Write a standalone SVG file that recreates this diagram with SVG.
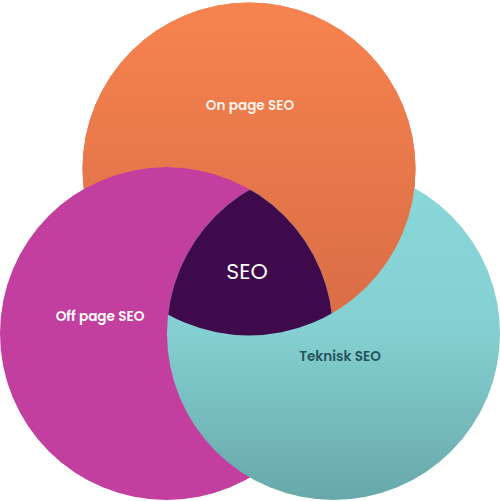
<svg xmlns="http://www.w3.org/2000/svg" width="500" height="501" viewBox="0 0 500 501">
<defs>
<linearGradient id="gOrange" x1="0" y1="0" x2="0" y2="1">
<stop offset="0" stop-color="#f7834f"/>
<stop offset="1" stop-color="#d86c46"/>
</linearGradient>
<linearGradient id="gTeal" x1="0" y1="0" x2="0" y2="1">
<stop offset="0" stop-color="#8ad8da"/>
<stop offset="0.5" stop-color="#84cfd1"/>
<stop offset="1" stop-color="#68a8aa"/>
</linearGradient>
<clipPath id="cMag"><circle cx="166.5" cy="333.5" r="166.5"/></clipPath>
<clipPath id="cTeal"><circle cx="333.5" cy="333.5" r="166.5"/></clipPath>
<mask id="mNotMag" maskUnits="userSpaceOnUse" x="0" y="0" width="500" height="501">
<rect x="0" y="0" width="500" height="501" fill="#fff"/>
<circle cx="166.5" cy="333.5" r="166.5" fill="#000"/>
</mask>
</defs>
<style>
.lbl{font-family:Poppins,"Noto Sans","Open Sans",sans-serif;font-weight:600;font-size:13.6px;text-anchor:middle}
</style>
<g id="onpage-base">
<circle cx="249" cy="169" r="166.5" fill="url(#gOrange)"/>
</g>
<g id="offpage">
<circle cx="166.5" cy="333.5" r="166.5" fill="#c23fa0"/>
</g>
<g id="teknisk">
<circle cx="333.5" cy="333.5" r="166.5" fill="url(#gTeal)"/>
</g>
<g id="onpage">
<g mask="url(#mNotMag)">
<circle cx="249" cy="169" r="166.5" fill="url(#gOrange)"/>
</g>
</g>
<g id="seo">
<g clip-path="url(#cMag)">
<g clip-path="url(#cTeal)">
<circle cx="249" cy="169" r="166.5" fill="#3f0a4b"/>
</g>
</g>
<text x="247" y="279" font-family="Poppins,'Noto Sans','Open Sans',sans-serif" font-size="22" fill="#ffffff" text-anchor="middle">SEO</text>
</g>
<g id="labels">
<text class="lbl" x="250" y="110" fill="#fff3ea">On page SEO</text>
<text class="lbl" x="100" y="321" fill="#ffffff">Off page SEO</text>
<text class="lbl" x="340" y="361" fill="#24555a">Teknisk SEO</text>
</g>
</svg>
